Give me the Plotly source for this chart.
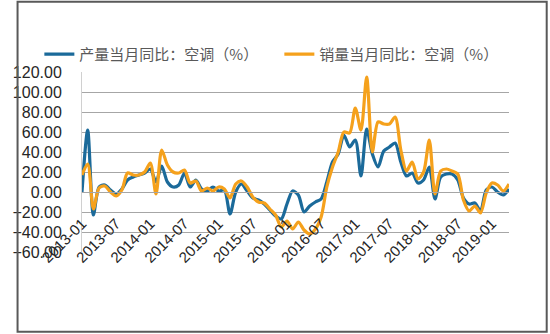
import plotly.graph_objects as go
import pandas as pd

months = pd.date_range("2013-01-01", periods=76, freq="MS").strftime("%Y-%m").tolist()

production = [0, 62, -23, 5, 7, 2, -2, 3, 12, 15, 17, 19,
              23, 10, 26, 10, 5, 7, 19, 5, 12, 3, 1, 5,
              1, 2, -22, 0, 8, 1, -6, -8, -12, -18, -24, -27,
              -12, 1, -3, -20, -14, -10, -7, 10, 30, 38, 57, 45,
              52, 16, 63, 38, 25, 41, 45, 49, 30, 16, 19, 9,
              12, 25, -7, 15, 18, 18, 12, -6, -12, -11, -19, 2,
              5, 0, -3, 3]

sales = [17, 28, -17, 4, 6, 0, -4, 2, 19, 17, 17, 20,
         29, -2, 42, 27, 20, 19, 22, 9, 11, 1, 4, 1,
         5, 3, -6, 8, 11, 5, -5, -10, -11, -17, -23, -35,
         -29, -37, -30, -38, -42, -37, -25, 5, 25, 40, 60, 59,
         84, 62, 115, 40, 70, 68, 68, 75, 42, 21, 30, 13,
         20, 52, -2, 21, 23, 21, 18, -8, -19, -14, -21, -1,
         9, 7, 1, 8]

tick_labels = ["2013-01", "2013-07", "2014-01", "2014-07", "2015-01", "2015-07",
               "2016-01", "2016-07", "2017-01", "2017-07", "2018-01", "2018-07",
               "2019-01"]

name_prod = "产量当月同比：空调（%）"
name_sales = "销量当月同比：空调（%）"

fig = go.Figure()
fig.add_trace(go.Scatter(x=months, y=production, mode="lines", name=name_prod,
                         line=dict(color="#1B6A9A", width=3.2, shape="spline", smoothing=0.8)))
fig.add_trace(go.Scatter(x=months, y=sales, mode="lines", name=name_sales,
                         line=dict(color="#F5A11C", width=3.2, shape="spline", smoothing=0.8)))

L, R, T, B = 68, 41.4, 71.7, 82.3
PW, PH = 550 - L - R, 334 - T - B

def px_x(p):
    return (p - L) / PW

def px_y(p):
    return (334 - B - p) / PH

fig.update_layout(
    width=550, height=334, autosize=False,
    margin=dict(l=L, r=R, t=T, b=B, pad=0),
    paper_bgcolor="white", plot_bgcolor="white",
    font=dict(family="Liberation Sans, Arial, sans-serif", color="#333333"),
    showlegend=True,
    legend=dict(orientation="h", x=px_x(24), y=px_y(54), xanchor="left", yanchor="middle",
                font=dict(family="Noto Sans CJK SC", size=15, color="#595959"),
                bgcolor="rgba(0,0,0,0)", entrywidth=195, entrywidthmode="pixels",
                traceorder="normal"),
    xaxis=dict(type="category", range=[0, 75], tickmode="array",
               tickvals=tick_labels, ticktext=tick_labels, tickangle=-45,
               anchor="free", position=1/3, showgrid=False,
               showline=True, linecolor="#a6a6a6", linewidth=1,
               ticks="", tickfont=dict(size=15, color="#262626"), ticklabelstandoff=16),
    yaxis=dict(range=[-60, 120], tickmode="linear", tick0=-60, dtick=20, tickformat=".2f",
               showgrid=True, gridcolor="#a6a6a6", gridwidth=1, zeroline=False,
               showline=True, linecolor="#d0d0d0", linewidth=1,
               ticks="", tickfont=dict(size=16, color="#262626"), ticklabelstandoff=16),
    shapes=[dict(type="rect", xref="paper", yref="paper",
                 x0=px_x(1.5), x1=px_x(547.5), y0=px_y(331.5), y1=px_y(1.5),
                 line=dict(color="#595959", width=2), fillcolor="rgba(0,0,0,0)", layer="above")],
)

fig.write_html("out.html")
